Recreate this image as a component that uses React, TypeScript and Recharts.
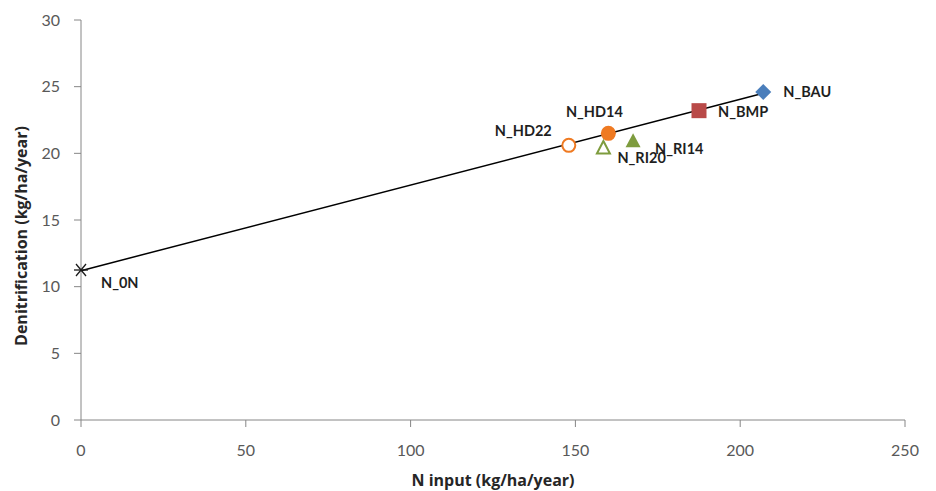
import { ReferenceLine, Scatter, ScatterChart, XAxis, YAxis } from "recharts";

const names = ["N_0N", "N_BAU", "N_BMP", "N_HD14", "N_HD22", "N_RI20", "N_RI14"];
const nInput = [0, 207, 187.5, 160, 148, 158.5, 167.5];
const denitrification = [11.25, 24.6, 23.2, 21.5, 20.6, 20.4, 20.9];

const trendX = [0, 207];
const trendY = [11.2, 24.5];

const xTicks = [0, 50, 100, 150, 200, 250];
const yTicks = [0, 5, 10, 15, 20, 25, 30];

const xTitle = "N input (kg/ha/year)";
const yTitle = "Denitrification (kg/ha/year)";

const tokens = {
  axis: "#868686",
  tickText: "#595959",
  title: "#262626",
  font: "Lato, 'Open Sans', sans-serif",
  titleFont: "'Open Sans', Lato, sans-serif",
};

// marker look + label offset per point
const markerStyle: Record<string, { kind: string; color: string; dx: number; dy: number; anchor: string }> = {
  N_0N: { kind: "star", color: "#1a1a1a", dx: 20, dy: 18, anchor: "start" },
  N_BAU: { kind: "diamond", color: "#4a7ebb", dx: 20, dy: 5, anchor: "start" },
  N_BMP: { kind: "square", color: "#b94a48", dx: 19, dy: 6, anchor: "start" },
  N_HD14: { kind: "circle", color: "#ef7a22", dx: -14, dy: -16, anchor: "middle" },
  N_HD22: { kind: "openCircle", color: "#ef7a22", dx: -17, dy: -9, anchor: "end" },
  N_RI20: { kind: "openTriangle", color: "#7e9c3e", dx: 14, dy: 15, anchor: "start" },
  N_RI14: { kind: "triangle", color: "#7e9c3e", dx: 22, dy: 13, anchor: "start" },
};

const points = names.map((name, i) => ({ name, x: nInput[i], y: denitrification[i] }));

function Marker(props: any) {
  const { cx, cy, payload } = props;
  const s = markerStyle[payload.name];
  let mark = null;
  if (s.kind === "star") {
    mark = (
      <g stroke={s.color} strokeWidth={1.3}>
        <line x1={cx - 7} y1={cy} x2={cx + 7} y2={cy} />
        <line x1={cx - 5} y1={cy - 6} x2={cx + 5} y2={cy + 6} />
        <line x1={cx - 5} y1={cy + 6} x2={cx + 5} y2={cy - 6} />
      </g>
    );
  } else if (s.kind === "diamond") {
    mark = <path d={`M${cx},${cy - 8} L${cx + 8},${cy} L${cx},${cy + 8} L${cx - 8},${cy} Z`} fill={s.color} />;
  } else if (s.kind === "square") {
    mark = <rect x={cx - 7.5} y={cy - 7.5} width={15} height={15} fill={s.color} />;
  } else if (s.kind === "circle") {
    mark = <circle cx={cx} cy={cy} r={7.5} fill={s.color} />;
  } else if (s.kind === "openCircle") {
    mark = <circle cx={cx} cy={cy} r={6.5} fill="#fff" stroke={s.color} strokeWidth={2} />;
  } else if (s.kind === "triangle") {
    mark = <path d={`M${cx},${cy - 8} L${cx + 7.5},${cy + 6} L${cx - 7.5},${cy + 6} Z`} fill={s.color} />;
  } else {
    mark = (
      <path
        d={`M${cx},${cy - 7} L${cx + 6.5},${cy + 5.5} L${cx - 6.5},${cy + 5.5} Z`}
        fill="#fff"
        stroke={s.color}
        strokeWidth={2}
      />
    );
  }
  return (
    <g>
      {mark}
      <text
        x={cx + s.dx}
        y={cy + s.dy}
        textAnchor={s.anchor as any}
        fontSize={14.5}
        fontWeight="bold"
        fill="#1f1f1f"
        fontFamily={tokens.font}
      >
        {payload.name}
      </text>
    </g>
  );
}

function YTitle(props: any) {
  const { viewBox } = props;
  const cy = viewBox.y + viewBox.height / 2 + 16;
  return (
    <text
      x={13}
      y={cy}
      transform={`rotate(-90, 13, ${cy})`}
      textAnchor="middle"
      dominantBaseline="central"
      fontSize={16}
      fontWeight="bold"
      fill={tokens.title}
      fontFamily={tokens.titleFont}
    >
      {yTitle}
    </text>
  );
}

export default function App() {
  return (
    <div style={{ width: 920, height: 483, background: "#fff" }}>
      <ScatterChart width={920} height={483} margin={{ top: 12, right: 23, bottom: 21, left: 0 }}>
        <XAxis
          type="number"
          dataKey="x"
          domain={[0, 250]}
          ticks={xTicks}
          stroke={tokens.axis}
          tickSize={7}
          tickMargin={18}
          height={50}
          tick={{ fill: tokens.tickText, fontSize: 16, fontFamily: tokens.font }}
          label={{
            value: xTitle,
            position: "insideBottom",
            offset: -16,
            fill: tokens.title,
            fontSize: 16,
            fontWeight: "bold",
            fontFamily: tokens.titleFont,
          }}
        />
        <YAxis
          type="number"
          dataKey="y"
          domain={[0, 30]}
          ticks={yTicks}
          stroke={tokens.axis}
          tickSize={7}
          tickMargin={14}
          width={73}
          tick={{ fill: tokens.tickText, fontSize: 16, fontFamily: tokens.font }}
          label={<YTitle />}
        />
        <ReferenceLine
          segment={[
            { x: trendX[0], y: trendY[0] },
            { x: trendX[1], y: trendY[1] },
          ]}
          stroke="#000"
          strokeWidth={1.5}
          ifOverflow="visible"
        />
        <Scatter data={points} shape={Marker} isAnimationActive={false} />
      </ScatterChart>
    </div>
  );
}
